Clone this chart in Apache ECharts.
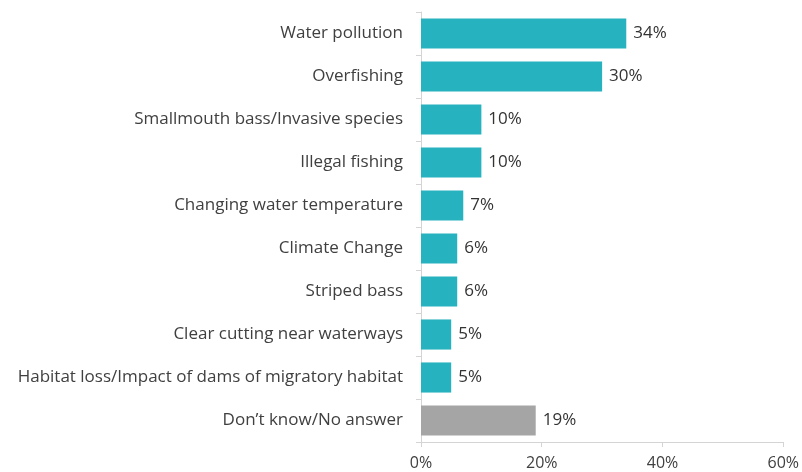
<!DOCTYPE html>
<html>
<head>
<meta charset="utf-8">
<script src="https://cdn.jsdelivr.net/npm/echarts@6/dist/echarts.min.js"></script>
<style>
  html, body { margin: 0; padding: 0; background: #ffffff; }
  #chart { width: 802px; height: 472px; }
</style>
</head>
<body>
<div id="chart"></div>
<script>
// Perceived threats, share of respondents (%)
const categories = [
  'Water pollution',
  'Overfishing',
  'Smallmouth bass/Invasive species',
  'Illegal fishing',
  'Changing water temperature',
  'Climate Change',
  'Striped bass',
  'Clear cutting near waterways',
  'Habitat loss/Impact of dams of migratory habitat',
  'Don\u2019t know/No answer'
];
const values = [34, 30, 10, 10, 7, 6, 6, 5, 5, 19];
const xTicks = [0, 20, 40, 60];

const TEAL = '#26b2be';
const GREY = '#a5a5a5';
const FONT = '"Open Sans"';

const chart = echarts.init(document.getElementById('chart'), null, { renderer: 'canvas' });

chart.setOption({
  animation: false,
  grid: { left: 421, right: 14, top: 12, bottom: 30, containLabel: false },
  xAxis: {
    type: 'value',
    min: xTicks[0],
    max: xTicks[xTicks.length - 1],
    interval: 20,
    axisLine: { show: true, lineStyle: { color: '#d4d4d4', width: 1 } },
    axisTick: { show: true, length: 5, lineStyle: { color: '#d4d4d4' } },
    splitLine: { show: false },
    axisLabel: {
      formatter: v => v + '%',
      margin: 13,
      fontFamily: FONT,
      fontSize: 16,
      color: '#404040'
    }
  },
  yAxis: {
    type: 'category',
    inverse: true,
    data: categories,
    axisLine: { show: true, lineStyle: { color: '#d4d4d4', width: 1 } },
    axisTick: { show: true, length: 5, lineStyle: { color: '#d4d4d4' } },
    axisLabel: {
      margin: 18,
      fontFamily: FONT,
      fontSize: 17,
      color: '#404040'
    }
  },
  series: [{
    type: 'bar',
    data: values.map((v, i) => ({
      value: v,
      itemStyle: { color: i === values.length - 1 ? GREY : TEAL }
    })),
    barCategoryGap: '30%',
    label: {
      show: true,
      position: 'right',
      distance: 7,
      formatter: p => p.value + '%',
      fontFamily: FONT,
      fontSize: 17,
      color: '#333333'
    }
  }]
});
</script>
</body>
</html>
